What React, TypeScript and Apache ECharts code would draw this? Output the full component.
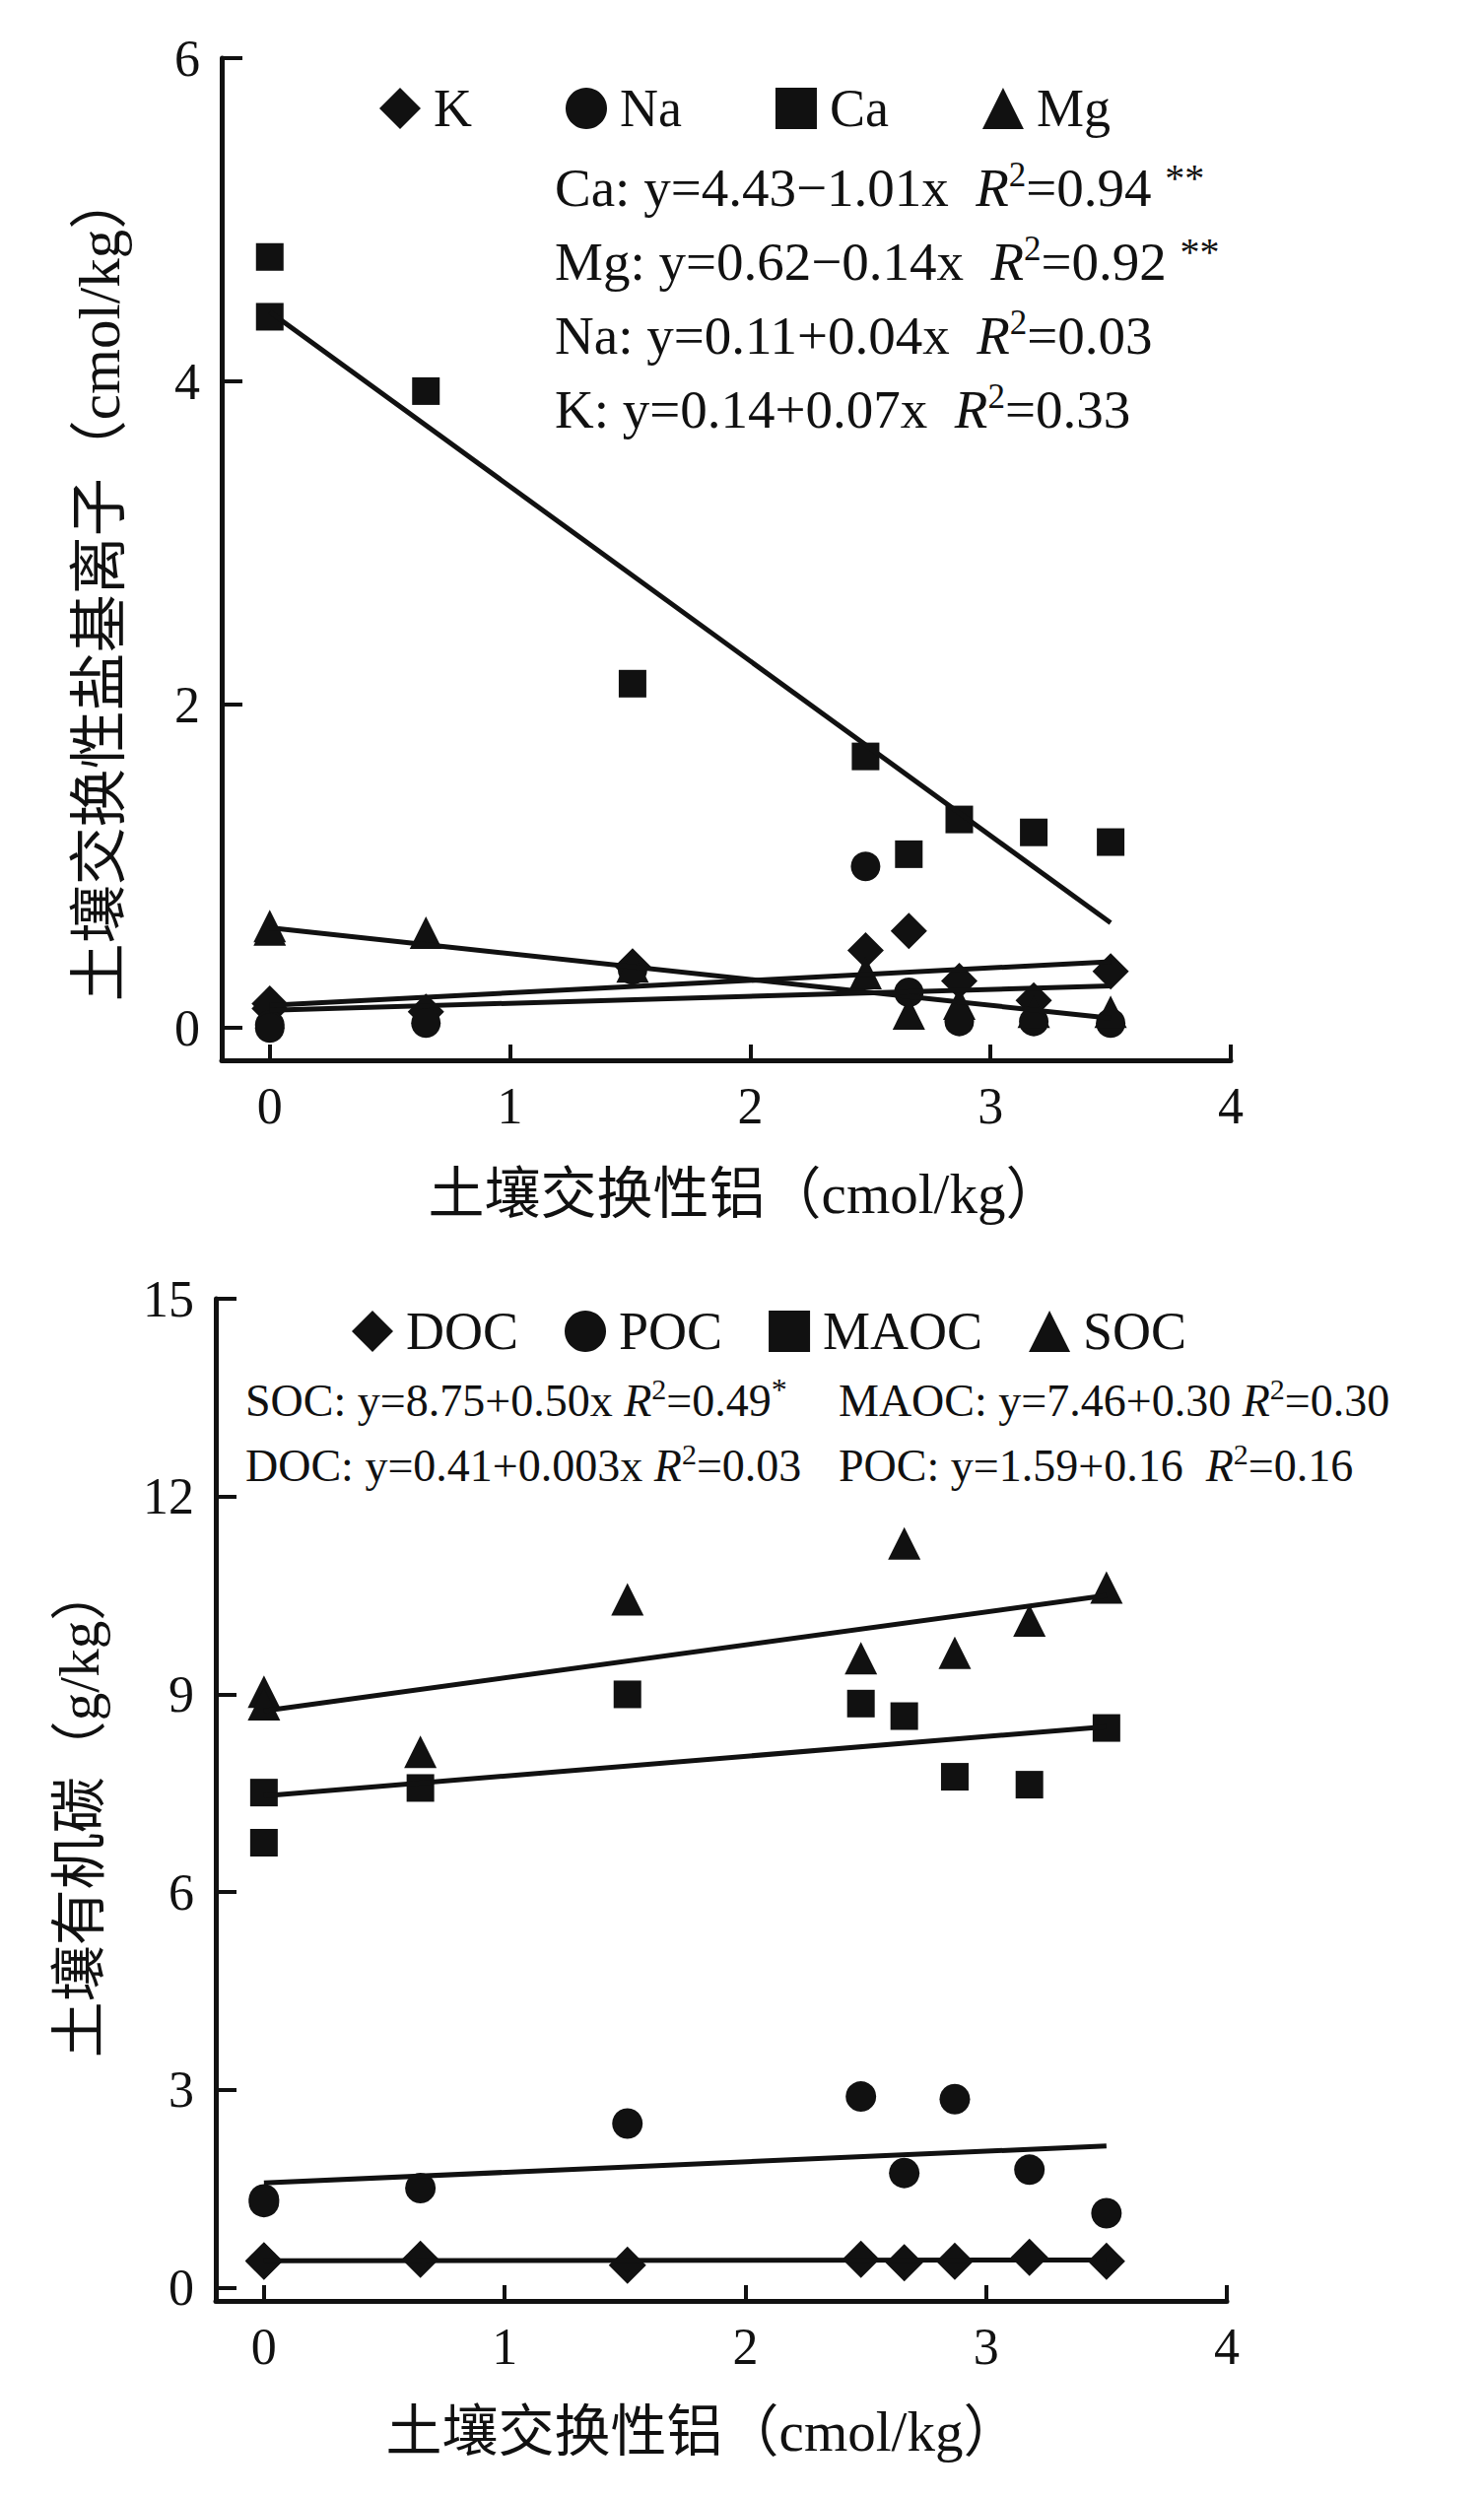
import React, { useEffect, useRef } from "react";
import * as echarts from "echarts";

// ---------- Data (top chart: exchangeable base cations) ----------
const alTop = [0, 0, 0.65, 1.51, 2.48, 2.66, 2.87, 3.18, 3.5];
const kVals = [0.15, 0.12, 0.1, 0.38, 0.48, 0.6, 0.29, 0.17, 0.35];
const naVals = [0.02, 0.0, 0.03, 0.36, 1.0, 0.22, 0.04, 0.04, 0.03];
const caVals = [4.77, 4.4, 3.94, 2.13, 1.68, 1.075, 1.29, 1.21, 1.15];
const mgVals = [0.63, 0.61, 0.59, 0.38, 0.34, 0.09, 0.15, 0.1, 0.1];
// fitted line end points (x = 0 and x = 3.5)
const fitX = [0, 3.5];
const caFit = [4.43, 0.65];
const mgFit = [0.62, 0.06];
const naFit = [0.11, 0.26];
const kFit = [0.14, 0.41];

// ---------- Data (bottom chart: soil organic carbon fractions) ----------
const alBot = [0, 0, 0.65, 1.51, 2.48, 2.66, 2.87, 3.18, 3.5];
const docVals = [0.41, 0.4, 0.43, 0.34, 0.43, 0.38, 0.4, 0.46, 0.4];
const pocVals = [1.34, 1.3, 1.51, 2.49, 2.9, 1.74, 2.86, 1.79, 1.13];
const maocVals = [7.51, 6.75, 7.58, 9.0, 8.86, 8.67, 7.75, 7.63, 8.49];
const socVals = [9.04, 8.85, 8.13, 10.44, 9.55, 11.29, 9.63, 10.12, 10.62];
const socFit = [8.75, 10.5];
const maocFit = [7.46, 8.51];
const pocFit = [1.59, 2.15];
const docFit = [0.41, 0.42];

// ---------- Ticks ----------
const xTicks = [0, 1, 2, 3, 4];
const yTicksTop = [0, 2, 4, 6];
const yTicksBot = [0, 3, 6, 9, 12, 15];

const topLegend = ["K", "Na", "Ca", "Mg"];
const botLegend = ["DOC", "POC", "MAOC", "SOC"];

const FONT = "'Liberation Serif','Noto Sans CJK SC',serif";
const INK = "#111";

const pairs = (xs: number[], ys: number[]) => xs.map((x, i) => [x, ys[i]]);

function scatter(name: string, idx: number, xs: number[], ys: number[], symbol: string, size: number) {
  return {
    name,
    type: "scatter",
    xAxisIndex: idx,
    yAxisIndex: idx,
    data: pairs(xs, ys),
    symbol,
    symbolSize: size,
    itemStyle: { color: INK, opacity: 1 },
    emphasis: { disabled: true },
    z: 2,
  };
}

function fit(name: string, idx: number, ys: number[]) {
  return {
    name,
    type: "line",
    xAxisIndex: idx,
    yAxisIndex: idx,
    data: pairs(fitX, ys),
    symbol: "none",
    lineStyle: { color: INK, width: 5 },
    z: 3,
  };
}

function xAxis(idx: number) {
  return {
    type: "value",
    gridIndex: idx,
    min: -0.2,
    max: 4,
    axisLine: { show: true, onZero: false, lineStyle: { color: INK, width: 5 } },
    axisTick: { show: true, inside: true, length: 16, customValues: xTicks, lineStyle: { color: INK, width: 4 } },
    axisLabel: { customValues: xTicks, fontSize: 52, fontFamily: FONT, color: INK, margin: 20 },
    splitLine: { show: false },
  };
}

function yAxis(idx: number, max: number, ticks: number[]) {
  return {
    type: "value",
    gridIndex: idx,
    min: -0.2,
    max,
    axisLine: { show: true, onZero: false, lineStyle: { color: INK, width: 5 } },
    axisTick: { show: true, inside: true, length: 21, customValues: ticks, lineStyle: { color: INK, width: 4 } },
    axisLabel: { customValues: ticks, fontSize: 52, fontFamily: FONT, color: INK, margin: 22 },
    splitLine: { show: false },
  };
}

const richBig = {
  n: { fontSize: 55, fontFamily: FONT, fill: INK, lineHeight: 60 },
  i: { fontSize: 55, fontFamily: FONT, fontStyle: "italic", fill: INK, lineHeight: 60 },
  s: { fontSize: 35, fontFamily: FONT, fill: INK, lineHeight: 44, verticalAlign: "top" },
  ss: { fontSize: 40, fontFamily: FONT, fill: INK, lineHeight: 4, verticalAlign: "top" },
};
const richSmall = {
  n: { fontSize: 46, fontFamily: FONT, fill: INK, lineHeight: 54 },
  i: { fontSize: 46, fontFamily: FONT, fontStyle: "italic", fill: INK, lineHeight: 54 },
  s: { fontSize: 30, fontFamily: FONT, fill: INK, lineHeight: 40, verticalAlign: "top" },
  ss: { fontSize: 32, fontFamily: FONT, fill: INK, lineHeight: 10, verticalAlign: "top" },
};

function rtext(x: number, y: number, text: string, rich: any) {
  return {
    type: "text",
    x,
    y,
    style: { text, rich, align: "left", verticalAlign: "middle", fill: INK },
  };
}

function plainText(x: number, y: number, text: string, size: number, rotate = false) {
  return {
    type: "text",
    x,
    y,
    rotation: rotate ? Math.PI / 2 : 0,
    style: { text, fontSize: size, fontFamily: FONT, fill: INK, align: "center", verticalAlign: "middle" },
  };
}

function legend(data: string[], left: number, top: number, gap: number) {
  return {
    data,
    left,
    top,
    orient: "horizontal",
    itemWidth: 42,
    itemHeight: 42,
    itemGap: gap,
    selectedMode: false,
    itemStyle: { opacity: 1 },
    textStyle: { fontSize: 54, fontFamily: FONT, color: INK, padding: [0, 0, 0, 8] },
  };
}

export default function App() {
  const ref = useRef<HTMLDivElement>(null);
  useEffect(() => {
    if (!ref.current) return;
    const chart = echarts.init(ref.current, null, { renderer: "svg" });
    const option: any = {
      animation: false,
      backgroundColor: "#fff",
      grid: [
        { left: 225, top: 59, width: 1024, height: 1017 },
        { left: 219, top: 1318, width: 1026, height: 1017 },
      ],
      xAxis: [xAxis(0), xAxis(1)],
      yAxis: [yAxis(0, 6, yTicksTop), yAxis(1, 15, yTicksBot)],
      legend: [legend(topLegend, 380, 78, 95), legend(botLegend, 352, 1319, 47)],
      series: [
        scatter("K", 0, alTop, kVals, "diamond", 37),
        scatter("Na", 0, alTop, naVals, "circle", 30),
        scatter("Ca", 0, alTop, caVals, "rect", 28),
        scatter("Mg", 0, alTop, mgVals, "triangle", 33),
        fit("Ca fit", 0, caFit),
        fit("Mg fit", 0, mgFit),
        fit("Na fit", 0, naFit),
        fit("K fit", 0, kFit),
        scatter("DOC", 1, alBot, docVals, "diamond", 38),
        scatter("POC", 1, alBot, pocVals, "circle", 31),
        scatter("MAOC", 1, alBot, maocVals, "rect", 28),
        scatter("SOC", 1, alBot, socVals, "triangle", 33),
        fit("SOC fit", 1, socFit),
        fit("MAOC fit", 1, maocFit),
        fit("POC fit", 1, pocFit),
        fit("DOC fit", 1, docFit),
      ],
      graphic: [
        rtext(563, 190, "{n|Ca: y=4.43−1.01x  }{i|R}{s|2}{n|=0.94 }{ss|**}", richBig),
        rtext(563, 265, "{n|Mg: y=0.62−0.14x  }{i|R}{s|2}{n|=0.92 }{ss|**}", richBig),
        rtext(563, 340, "{n|Na: y=0.11+0.04x  }{i|R}{s|2}{n|=0.03}", richBig),
        rtext(563, 415, "{n|K: y=0.14+0.07x  }{i|R}{s|2}{n|=0.33}", richBig),
        rtext(249, 1421, "{n|SOC: y=8.75+0.50x }{i|R}{s|2}{n|=0.49}{ss|*}", richSmall),
        rtext(249, 1487, "{n|DOC: y=0.41+0.003x }{i|R}{s|2}{n|=0.03}", richSmall),
        rtext(851, 1421, "{n|MAOC: y=7.46+0.30 }{i|R}{s|2}{n|=0.30}", richSmall),
        rtext(851, 1487, "{n|POC: y=1.59+0.16  }{i|R}{s|2}{n|=0.16}", richSmall),
        plainText(101, 595, "土壤交换性盐基离子（cmol/kg）", 59, true),
        plainText(756, 1211, "土壤交换性铝（cmol/kg）", 57),
        plainText(80, 1838, "土壤有机碳（g/kg）", 57, true),
        plainText(713, 2467, "土壤交换性铝（cmol/kg）", 57),
      ],
    };
    chart.setOption(option);
    return () => chart.dispose();
  }, []);
  return (
    <div
      ref={ref}
      style={{ position: "absolute", left: 0, top: 0, width: 1506, height: 2535, background: "#fff" }}
    />
  );
}
